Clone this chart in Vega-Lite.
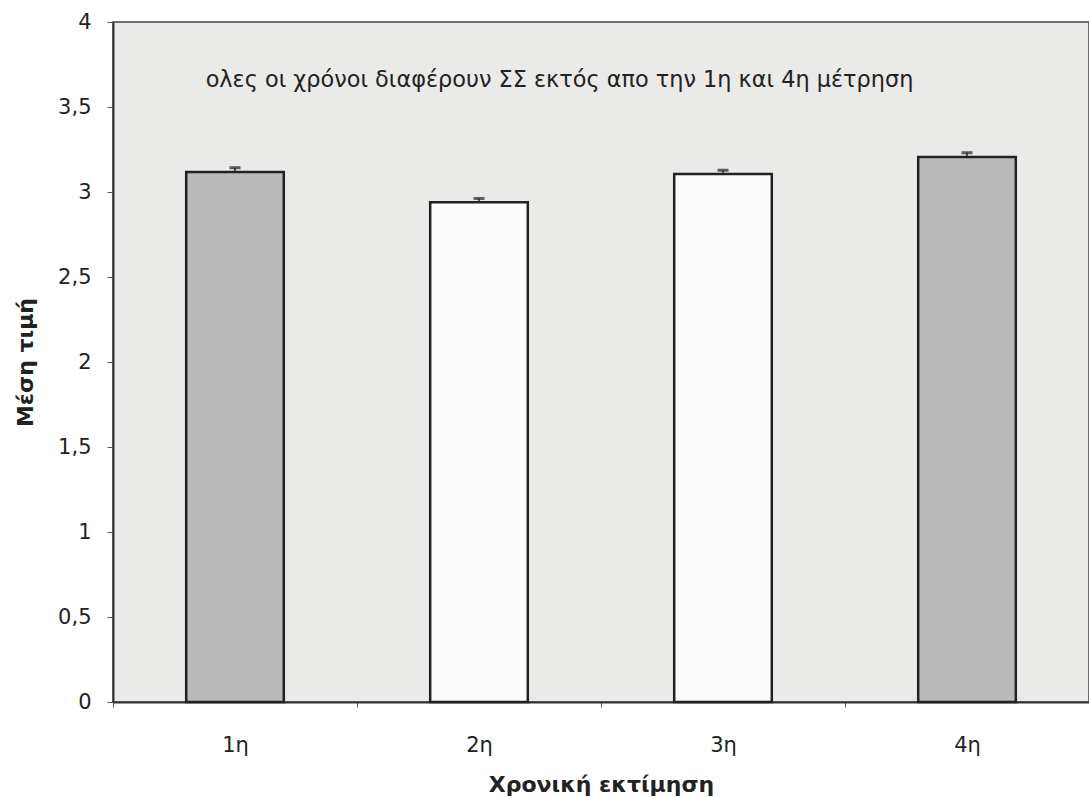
{
  "$schema": "https://vega.github.io/schema/vega-lite/v6.json",
  "autosize": "none",
  "width": 976,
  "height": 680,
  "padding": {"left": 113, "top": 22, "right": 0, "bottom": 95},
  "background": "#ffffff",
  "config": {
    "font": "DejaVu Sans",
    "view": {"fill": "#eaeae8", "stroke": "#444444", "strokeWidth": 1.5},
    "axis": {
      "labelFont": "DejaVu Sans",
      "labelColor": "#222222",
      "tickColor": "#555555",
      "domainColor": "#333333",
      "domainWidth": 2,
      "titleFont": "DejaVu Sans",
      "titleFontSize": 22,
      "titleFontWeight": "bold",
      "titleColor": "#222222",
      "grid": false
    },
    "axisY": {"labelFontSize": 21, "labelPadding": 16, "tickSize": 6, "titlePadding": 20}
  },
  "datasets": {
    "bars": [
      {"time": "1η", "mean": 3.118, "err": 0.025},
      {"time": "2η", "mean": 2.94, "err": 0.022},
      {"time": "3η", "mean": 3.106, "err": 0.022},
      {"time": "4η", "mean": 3.206, "err": 0.025}
    ],
    "note": [
      {"time": "2η", "y": 3.66, "label": "ολες οι χρόνοι διαφέρουν ΣΣ εκτός απο την 1η και 4η μέτρηση"}
    ]
  },
  "layer": [
    {
      "data": {"name": "bars"},
      "mark": {"type": "bar", "stroke": "#222222", "strokeWidth": 2.5, "width": {"band": 0.4}},
      "encoding": {
        "x": {
          "field": "time",
          "type": "nominal",
          "sort": null,
          "scale": {"paddingInner": 0, "paddingOuter": 0},
          "axis": {
            "title": "Χρονική εκτίμηση",
            "labelAngle": 0,
            "labelFontSize": 21,
            "labelPadding": 27,
            "tickSize": 5,
            "tickBand": "extent",
            "titlePadding": 19
          }
        },
        "y": {
          "field": "mean",
          "type": "quantitative",
          "scale": {"domain": [0, 4], "nice": false},
          "axis": {
            "title": "Μέση τιμή",
            "values": [0, 0.5, 1, 1.5, 2, 2.5, 3, 3.5, 4],
            "labelExpr": "replace(toString(datum.value), '.', ',')"
          }
        },
        "color": {
          "field": "time",
          "type": "nominal",
          "scale": {"domain": ["1η", "2η", "3η", "4η"], "range": ["#bababa", "#fbfbfb", "#fbfbfb", "#bababa"]},
          "legend": null
        }
      }
    },
    {
      "data": {"name": "bars"},
      "transform": [{"calculate": "datum.mean + datum.err", "as": "hi"}],
      "mark": {"type": "rule", "color": "#222222", "strokeWidth": 1.5},
      "encoding": {
        "x": {"field": "time", "type": "nominal", "sort": null},
        "y": {"field": "mean", "type": "quantitative"},
        "y2": {"field": "hi"}
      }
    },
    {
      "data": {"name": "bars"},
      "transform": [{"calculate": "datum.mean + datum.err", "as": "hi"}],
      "mark": {"type": "tick", "color": "#222222", "thickness": 3, "size": 11},
      "encoding": {
        "x": {"field": "time", "type": "nominal", "sort": null},
        "y": {"field": "hi", "type": "quantitative"}
      }
    },
    {
      "data": {"name": "note"},
      "mark": {"type": "text", "font": "DejaVu Sans", "fontSize": 22.4, "color": "#222222", "align": "center", "baseline": "middle"},
      "encoding": {
        "x": {"field": "time", "type": "nominal", "sort": null, "bandPosition": 0.83},
        "y": {"field": "y", "type": "quantitative"},
        "text": {"field": "label"}
      }
    }
  ]
}
